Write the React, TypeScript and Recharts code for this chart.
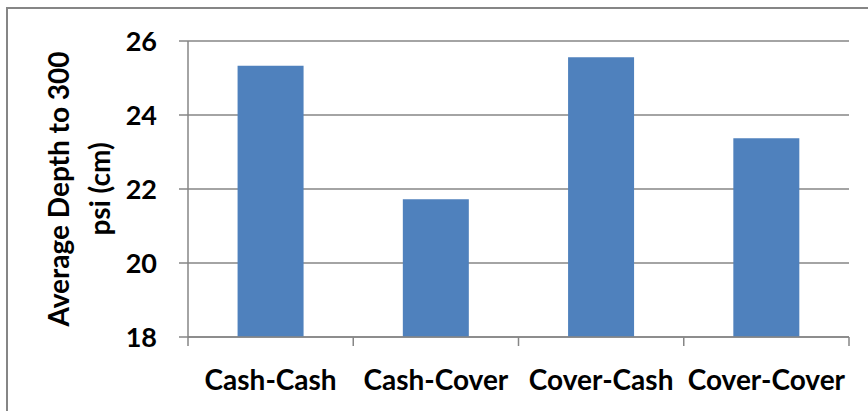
import React from 'react';
import { BarChart, Bar, XAxis, YAxis, CartesianGrid } from 'recharts';

// Average depth to 300 psi by rotation
const CATEGORIES = ['Cash-Cash', 'Cash-Cover', 'Cover-Cash', 'Cover-Cover'];
const DEPTH = [25.33, 21.72, 25.56, 23.37];
const Y_TICKS = [18, 20, 22, 24, 26];
const EDGE_TICKS = [0, 1, 2, 3, 4];
const Y_LABEL = ['Average Depth to 300', 'psi (cm)'];

const data = CATEGORIES.map((name, i) => ({ name, depth: DEPTH[i], slot: i + 0.5 }));

const FONT = 'Lato, "Open Sans", sans-serif';
const AXIS_GRAY = '#868686';
const BAR_BLUE = '#4F81BD';

const W = 868;
const H = 411;

// two-line rotated axis title
const YAxisTitle = ({ viewBox }: any) => {
  const cy = viewBox.y + viewBox.height / 2;
  return (
    <text
      fontFamily={FONT}
      fontSize={28}
      fontWeight={700}
      fill="#000"
      textAnchor="middle"
      transform={`rotate(-90, 69, ${cy})`}
    >
      <tspan x={69} y={cy}>{Y_LABEL[0]}</tspan>
      <tspan x={69} y={cy + 41}>{Y_LABEL[1]}</tspan>
    </text>
  );
};

const NoLabel = () => <g />;

export default function App() {
  return (
    <div style={{ position: 'absolute', left: 0, top: 0, width: W, height: H, overflow: 'hidden', background: '#fff' }}>
      <div
        style={{
          position: 'absolute',
          left: 6,
          top: 7,
          width: W + 40,
          height: H + 40,
          border: `2px solid ${AXIS_GRAY}`,
        }}
      />
      <div style={{ position: 'absolute', left: 0, top: 0 }}>
        <BarChart
          width={W}
          height={H}
          data={data}
          margin={{ top: 41, right: 19, bottom: 0, left: 0 }}
          barCategoryGap="30%"
        >
          <CartesianGrid vertical={false} stroke={AXIS_GRAY} strokeWidth={1.5} />
          {/* boundary tick marks between categories */}
          <XAxis
            xAxisId="a_edges"
            dataKey="slot"
            type="number"
            domain={[0, 4]}
            ticks={EDGE_TICKS}
            height={1}
            tick={<NoLabel />}
            tickSize={9}
            axisLine={{ stroke: AXIS_GRAY, strokeWidth: 1.5 }}
            tickLine={{ stroke: AXIS_GRAY, strokeWidth: 1.5 }}
          />
          <XAxis
            xAxisId="b_names"
            dataKey="name"
            height={73}
            axisLine={false}
            tickLine={false}
            tickSize={0}
            tickMargin={32}
            interval={0}
            tick={{ fontFamily: FONT, fontSize: 28, fontWeight: 700, fill: '#000' }}
          />
          <YAxis
            width={188}
            domain={[18, 26]}
            ticks={Y_TICKS}
            interval={0}
            tickSize={9}
            tickMargin={22}
            axisLine={{ stroke: AXIS_GRAY, strokeWidth: 1.5 }}
            tickLine={{ stroke: AXIS_GRAY, strokeWidth: 1.5 }}
            tick={{ fontFamily: FONT, fontSize: 27, fontWeight: 700, fill: '#000' }}
            label={<YAxisTitle />}
          />
          <Bar dataKey="depth" xAxisId="b_names" fill={BAR_BLUE} isAnimationActive={false} />
        </BarChart>
      </div>
    </div>
  );
}
